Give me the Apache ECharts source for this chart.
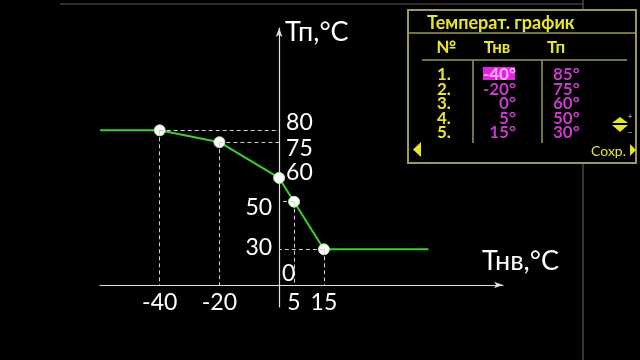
<!DOCTYPE html>
<html>
<head>
<meta charset="utf-8">
<script src="https://cdn.jsdelivr.net/npm/echarts@6/dist/echarts.min.js"></script>
<style>html,body{margin:0;padding:0;background:#000;}#c{width:640px;height:360px;}</style>
</head>
<body>
<div id="c"></div>
<script>
// ---- data ----
const tnv = [-40, -20, 0, 5, 15];          // outdoor temperature, °C
const tp = [80, 75, 60, 50, 30];           // supply temperature, °C
const lineEndsX = [-60, 50];               // flat extensions of the curve
const xTickValues = [-40, -20, 5, 15];
const originLabel = '0';
const yAxisName = 'Тп,°C';
const xAxisName = 'Тнв,°C';
const tableTitle = 'Температ. график';
const tableHeader = ['№', 'Тнв', 'Тп'];
const tableNo = ['1.', '2.', '3.', '4.', '5.'];
const tableTnv = ['-40°', '-20°', '0°', '5°', '15°'];
const tableTp = ['85°', '75°', '60°', '50°', '30°'];
const saveText = 'Сохр.';

const X_MIN = -60, X_MAX = 75, Y_MIN = 15, Y_MAX = 123;
const FONT = 'Lato';
const YEL = '#e8e62a', MAG = '#c83ac8', FRAME = '#9c9a52';

const pts = tnv.map((x, i) => [x, tp[i]]);
const lineData = [[lineEndsX[0], tp[0]]].concat(pts, [[lineEndsX[1], tp[tp.length - 1]]]);

const dash = [];
pts.forEach(p => {
  if (p[0] !== 0) {
    dash.push([{ coord: p }, { coord: [0, p[1]] }]);
    dash.push([{ coord: p }, { coord: [p[0], Y_MIN] }]);
  }
});

const labelSide = { 80: ['right', [0, -8]], 75: ['right', [0, 6]], 60: ['right', [0, -5]], 50: ['left', [0, 6]], 30: ['left', [0, -2]] };
const yLabelData = tp.map(v => ({
  value: [0, v],
  label: { position: labelSide[v][0], offset: labelSide[v][1], formatter: String(v) }
}));
yLabelData.push({ value: [0, Y_MIN], label: { position: 'right', offset: [0, -11], formatter: originLabel, distance: 3 } });

// table graphics
const g = [];
g.push({ type: 'line', shape: { x1: 60, y1: 4, x2: 583, y2: 4 }, style: { stroke: '#5a5a5a', lineWidth: 1 } });
g.push({ type: 'line', shape: { x1: 583, y1: 0, x2: 583, y2: 360 }, style: { stroke: '#6a6a6a', lineWidth: 1 } });
g.push({ type: 'rect', shape: { x: 408, y: 10, width: 228, height: 153 }, style: { fill: '#000', stroke: FRAME, lineWidth: 2 } });
g.push({ type: 'line', shape: { x1: 408, y1: 33, x2: 636, y2: 33 }, style: { stroke: FRAME, lineWidth: 1.5 } });
g.push({ type: 'text', style: { x: 427, y: 23, text: tableTitle, fill: YEL, font: 'bold 18px ' + FONT, verticalAlign: 'middle' } });
const hx = [446, 497, 556];
tableHeader.forEach((t, i) => g.push({ type: 'text', style: { x: hx[i], y: 48, text: t, fill: YEL, font: 'bold 17px ' + FONT, align: 'center', verticalAlign: 'middle' } }));
g.push({ type: 'line', shape: { x1: 422, y1: 60, x2: 627, y2: 60 }, style: { stroke: FRAME, lineWidth: 1.5 } });
g.push({ type: 'line', shape: { x1: 473, y1: 60, x2: 473, y2: 143 }, style: { stroke: FRAME, lineWidth: 1.5 } });
g.push({ type: 'line', shape: { x1: 542, y1: 60, x2: 542, y2: 143 }, style: { stroke: FRAME, lineWidth: 1.5 } });
g.push({ type: 'rect', shape: { x: 483, y: 67, width: 32, height: 13 }, style: { fill: '#e820e8' } });
tableNo.forEach((t, i) => {
  const y = 74.5 + i * 14.6;
  g.push({ type: 'text', style: { x: 437, y: y, text: t, fill: YEL, font: 'bold 17px ' + FONT, verticalAlign: 'middle' } });
  g.push({ type: 'text', style: { x: 516, y: y, text: tableTnv[i], fill: i === 0 ? '#f7b0f7' : MAG, font: 'bold 17px ' + FONT, align: 'right', verticalAlign: 'middle' } });
  g.push({ type: 'text', style: { x: 553, y: y, text: tableTp[i], fill: MAG, font: 'bold 17px ' + FONT, verticalAlign: 'middle' } });
});
g.push({ type: 'polygon', shape: { points: [[612, 123], [620, 117], [628, 123]] }, style: { fill: YEL } });
g.push({ type: 'polygon', shape: { points: [[612, 125], [628, 125], [620, 132]] }, style: { fill: YEL } });
g.push({ type: 'text', style: { x: 630, y: 116, text: '+', fill: '#ddd', font: '8px ' + FONT, align: 'center', verticalAlign: 'middle' } });
g.push({ type: 'text', style: { x: 630, y: 132, text: '−', fill: '#ddd', font: '8px ' + FONT, align: 'center', verticalAlign: 'middle' } });
g.push({ type: 'polygon', shape: { points: [[421, 142], [421, 157], [413, 149.5]] }, style: { fill: YEL } });
g.push({ type: 'polygon', shape: { points: [[630, 144], [630, 156], [636, 150]] }, style: { fill: YEL } });
g.push({ type: 'text', style: { x: 626, y: 151, text: saveText, fill: YEL, font: '14px ' + FONT, align: 'right', verticalAlign: 'middle' } });

const chart = echarts.init(document.getElementById('c'), null, { renderer: 'canvas' });
chart.setOption({
  backgroundColor: '#000',
  animation: false,
  grid: [
    { left: 100, right: 137, top: 28, bottom: 75 },
    { left: 100, right: 137, top: 285, bottom: 53 }
  ],
  xAxis: [
    {
      type: 'value', min: X_MIN, max: X_MAX, gridIndex: 0,
      axisLine: { onZero: false, lineStyle: { color: '#e0e0e0', width: 1.2 }, symbol: ['none', 'arrow'], symbolSize: [5, 9] },
      axisTick: { show: false },
      splitLine: { show: false },
      axisLabel: { customValues: xTickValues, color: '#fff', fontFamily: FONT, fontSize: 23, margin: 6 },
      name: xAxisName, nameLocation: 'end', nameGap: -21,
      nameTextStyle: { color: '#fff', fontFamily: FONT, fontSize: 27, align: 'left', verticalAlign: 'bottom', padding: [0, 0, 10, 0] }
    },
    { type: 'value', min: X_MIN, max: X_MAX, gridIndex: 1, show: false }
  ],
  yAxis: [
    {
      type: 'value', min: Y_MIN, max: Y_MAX, gridIndex: 0,
      axisLine: { onZero: true, lineStyle: { color: '#e0e0e0', width: 1.2 }, symbol: ['none', 'arrow'], symbolSize: [5, 9] },
      axisTick: { show: false }, axisLabel: { show: false }, splitLine: { show: false },
      name: yAxisName, nameLocation: 'end', nameGap: -4,
      nameTextStyle: { color: '#fff', fontFamily: FONT, fontSize: 27, align: 'left', verticalAlign: 'middle', padding: [0, 0, 0, 6] }
    },
    {
      type: 'value', min: 0, max: 1, gridIndex: 1,
      axisLine: { onZero: true, lineStyle: { color: '#e0e0e0', width: 1.2 } },
      axisTick: { show: false }, axisLabel: { show: false }, splitLine: { show: false }
    }
  ],
  series: [
    {
      type: 'line', data: lineData, symbol: 'none', z: 3,
      lineStyle: { color: '#3ccf2e', width: 2 }
    },
    {
      type: 'scatter', data: pts, symbol: 'circle', symbolSize: 11, z: 4,
      itemStyle: { color: '#fff', borderColor: '#b5eaa9', borderWidth: 1, opacity: 1 },
      markLine: {
        silent: true, symbol: 'none', label: { show: false },
        lineStyle: { color: '#cfcfcf', type: [4, 3], width: 1 },
        data: dash
      }
    },
    {
      type: 'scatter', data: yLabelData, symbolSize: 0, z: 5,
      itemStyle: { opacity: 1 },
      label: { show: true, color: '#fff', fontFamily: FONT, fontSize: 23, distance: 7 }
    }
  ],
  graphic: g
});
</script>
</body>
</html>
